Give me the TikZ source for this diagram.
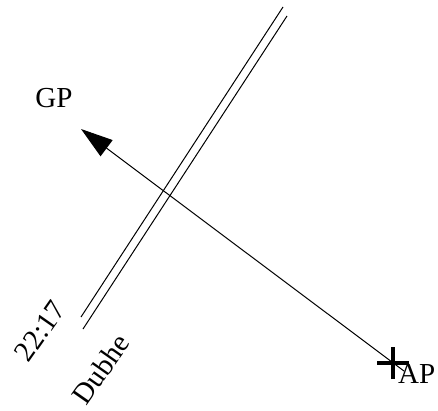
\documentclass[tikz,border=0pt]{standalone}
\usepackage{fontspec}
\setmainfont{Liberation Serif}
\usetikzlibrary{arrows.meta}
\begin{document}
\begin{tikzpicture}[x=1pt,y=-1pt,
  lbl/.style={font=\fontsize{29}{32}\selectfont, inner sep=0pt},
  thinline/.style={line width=1pt},
  crossline/.style={line width=4pt}]
\useasboundingbox (0,0) rectangle (438,410);
% double line
\coordinate (l1a) at (283,7);
\coordinate (l1b) at (81,317);
\coordinate (l2a) at (287,16);
\coordinate (l2b) at (83,329);
\draw[thinline] (l1a) -- (l1b);
\draw[thinline] (l2a) -- (l2b);
% labels
\node[lbl] (gp) at (54,98) {GP};
\node[lbl, anchor=west] (ap) at (398,374) {AP};
\node[lbl, rotate=55] (t) at (40,331) {22:17};
\node[lbl, rotate=55] (star) at (101,369) {Dubhe};
% arrow
\coordinate (apc) at (393,363);
\coordinate (start) at (404,371);
\coordinate (tip) at (81,129);
\draw[thinline, -{Triangle[length=32pt,width=20pt]}] (start) -- (tip);
% cross
\draw[crossline] ([xshift=-16pt]apc) -- ([xshift=16pt]apc);
\draw[crossline] ([yshift=-16pt]apc) -- ([yshift=16pt]apc);
\end{tikzpicture}
\end{document}
